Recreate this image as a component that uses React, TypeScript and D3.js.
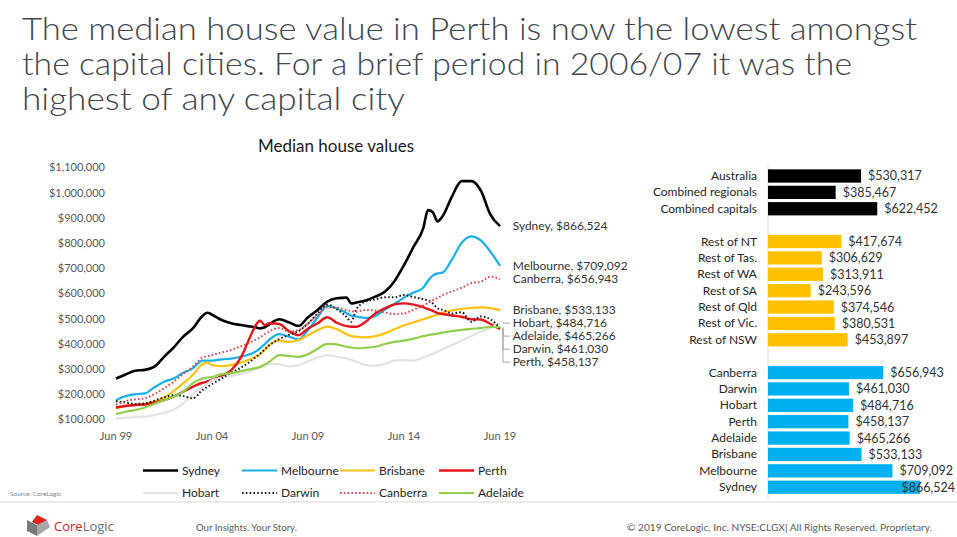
import React from "react";
import * as d3 from "d3";

// ---------- DATA ----------
const titleLines = [
  "The median house value in Perth is now the lowest amongst",
  "the capital cities.  For a brief period in 2006/07 it was the",
  "highest of any capital city",
];

const dates = [
  "1999-06", "1999-12", "2000-06", "2000-12", "2001-06", "2001-12", "2002-06", "2002-12",
  "2003-06", "2003-12", "2004-03", "2004-06", "2004-12", "2005-06", "2005-12", "2006-06",
  "2006-09", "2006-12", "2007-03", "2007-06", "2007-12", "2008-06", "2008-12", "2009-06",
  "2009-12", "2010-06", "2010-12", "2011-06", "2011-09", "2011-12", "2012-06", "2012-12",
  "2013-06", "2013-12", "2014-06", "2014-12", "2015-06", "2015-09", "2015-12", "2016-03",
  "2016-06", "2016-12", "2017-06", "2017-12", "2018-06", "2018-12", "2019-06",
];

// values in $ thousands
const sydney = [262, 278, 293, 296, 309, 348, 385, 428, 461, 510, 523, 515, 494, 481, 474, 468, 465, 461, 465, 478, 497, 485, 470, 505, 534, 567, 580, 583, 560, 563, 571, 587, 606, 648, 712, 785, 858, 930, 922, 885, 905, 985, 1045, 1045, 1008, 912, 866.5];
const melbourne = [176, 192, 200, 203, 227, 249, 262, 285, 302, 333, 333, 333, 338, 341, 348, 359, 368, 382, 398, 417, 438, 428, 417, 454, 505, 550, 540, 522, 512, 508, 502, 510, 535, 558, 583, 603, 622, 650, 670, 679, 682, 735, 800, 826, 810, 765, 709.1];
const brisbane = [143, 153, 157, 161, 170, 187, 212, 243, 276, 319, 325, 315, 311, 315, 325, 338, 348, 359, 375, 395, 412, 407, 415, 434, 454, 468, 457, 438, 430, 428, 425, 430, 441, 457, 473, 485, 497, 503, 510, 516, 523, 532, 538, 542, 544, 541, 533.1];
const perth = [147, 153, 157, 159, 166, 176, 190, 210, 229, 245, 250, 256, 272, 295, 345, 430, 470, 491, 474, 481, 478, 450, 434, 460, 481, 505, 483, 470, 467, 467, 487, 520, 540, 556, 560, 555, 545, 537, 530, 521, 518, 512, 507, 497, 496, 478, 458.1];
const hobart = [104, 106, 109, 110, 117, 126, 139, 163, 200, 229, 240, 255, 265, 272, 280, 290, 298, 305, 312, 320, 318, 310, 315, 330, 345, 355, 348, 342, 335, 329, 315, 313, 319, 333, 335, 332, 345, 352, 360, 368, 378, 395, 412, 430, 448, 462, 484.7];
const darwin = [172, 166, 161, 163, 174, 187, 196, 192, 183, 216, 228, 240, 262, 285, 305, 330, 345, 360, 378, 395, 418, 435, 450, 480, 520, 555, 536, 507, 487, 534, 567, 576, 584, 584, 593, 585, 577, 571, 560, 540, 535, 520, 525, 487, 508, 497, 461.0];
const canberra = [157, 172, 179, 183, 200, 223, 249, 280, 309, 345, 350, 355, 365, 375, 390, 405, 415, 425, 438, 450, 462, 448, 454, 481, 514, 544, 543, 534, 530, 527, 534, 531, 524, 518, 520, 535, 552, 562, 572, 582, 592, 608, 622, 640, 646, 666, 656.9];
const adelaide = [121, 130, 137, 147, 161, 176, 190, 210, 243, 262, 266, 268, 279, 283, 291, 299, 303, 308, 318, 329, 355, 352, 348, 358, 380, 399, 397, 388, 385, 382, 384, 388, 399, 407, 412, 420, 430, 434, 437, 440, 444, 450, 455, 459, 462, 467, 465.3];

const seriesNames = ["Sydney", "Melbourne", "Brisbane", "Perth", "Hobart", "Darwin", "Canberra", "Adelaide"];
const seriesValues = [sydney, melbourne, brisbane, perth, hobart, darwin, canberra, adelaide];
const endValues = [866524, 709092, 533133, 458137, 484716, 461030, 656943, 465266];

const yTicks = [100000, 200000, 300000, 400000, 500000, 600000, 700000, 800000, 900000, 1000000, 1100000];
const xTickDates = ["1999-06", "2004-06", "2009-06", "2014-06", "2019-06"];

const barCategories = [
  "Australia", "Combined regionals", "Combined capitals", "gap1",
  "Rest of NT", "Rest of Tas.", "Rest of WA", "Rest of SA", "Rest of Qld", "Rest of Vic.", "Rest of NSW", "gap2",
  "Canberra", "Darwin", "Hobart", "Perth", "Adelaide", "Brisbane", "Melbourne", "Sydney",
];
const barValues = [
  530317, 385467, 622452, null,
  417674, 306629, 313911, 243596, 374546, 380531, 453897, null,
  656943, 461030, 484716, 458137, 465266, 533133, 709092, 866524,
];
const barGroups = [
  "total", "total", "total", "",
  "regional", "regional", "regional", "regional", "regional", "regional", "regional", "",
  "capital", "capital", "capital", "capital", "capital", "capital", "capital", "capital",
];

// ---------- STYLE ----------
const seriesStyle: Record<string, { color: string; width: number; dash?: string }> = {
  Sydney: { color: "#000000", width: 2.6 },
  Melbourne: { color: "#16B1EA", width: 2.2 },
  Brisbane: { color: "#FFC20E", width: 2.2 },
  Perth: { color: "#E8141B", width: 2.4 },
  Hobart: { color: "#E3E3E3", width: 2.2 },
  Darwin: { color: "#1a1a1a", width: 2, dash: "1.6,2.2" },
  Canberra: { color: "#E2464C", width: 2, dash: "1.6,2.2" },
  Adelaide: { color: "#8FCF4C", width: 2.2 },
};
const groupColor: Record<string, string> = { total: "#000000", regional: "#FFC000", capital: "#00B0F0" };

const FONT = "Lato, 'Open Sans', sans-serif";

export default function App() {
  const parse = d3.timeParse("%Y-%m");
  const t = dates.map((d) => parse(d) as Date);

  const x = d3.scaleTime().domain([parse("1999-06") as Date, parse("2019-06") as Date]).range([116, 500]);
  const y = d3.scaleLinear().domain([100000, 1100000]).range([419.3, 167.3]);

  const line = d3
    .line<[Date, number]>()
    .x((d) => x(d[0]))
    .y((d) => y(d[1] * 1000))
    .curve(d3.curveMonotoneX);

  const money = d3.format("$,");

  // end labels with collision avoidance
  const order = seriesNames.map((n, i) => ({ name: n, v: endValues[i], yv: y(endValues[i]) }))
    .sort((a, b) => a.yv - b.yv);
  const gap = 13;
  const labels = order.map((o) => ({ ...o, yl: o.yv }));
  for (let i = 1; i < labels.length; i++) {
    if (labels[i].yl < labels[i - 1].yl + gap) labels[i].yl = labels[i - 1].yl + gap;
  }
  const clustered = labels.map((l, i) => {
    const prev = i > 0 ? Math.abs(order[i].yv - order[i - 1].yv) : 99;
    const next = i < order.length - 1 ? Math.abs(order[i + 1].yv - order[i].yv) : 99;
    return Math.min(prev, next) < 10;
  });
  const xEnd = x(parse("2019-06") as Date);

  // bars
  const by = d3.scaleBand().domain(barCategories).range([167.8, 495.4]).paddingInner(0.19).paddingOuter(0.095);
  const bx = d3.scaleLinear().domain([0, 1000000]).range([768, 768 + 175.5]);

  const legendRows = [
    ["Sydney", "Melbourne", "Brisbane", "Perth"],
    ["Hobart", "Darwin", "Canberra", "Adelaide"],
  ];
  const legendCols = [143, 242, 340, 439];
  const legendRowY = [470.5, 493];

  return (
    <svg
      width={957}
      height={537}
      style={{ position: "absolute", left: 0, top: 0, display: "block", background: "#fff" }}
      fontFamily={FONT}
    >
      <rect x={0} y={0} width={957} height={537} fill="#fff" />
      {/* Title */}
      {titleLines.map((s, i) => (
        <text
          key={i}
          x={22}
          y={40 + i * 35}
          fontSize={32}
          fontWeight={300}
          fill="#3E4751"
          textLength={[895, 830, 383][i]}
          lengthAdjust="spacingAndGlyphs"
        >
          {s}
        </text>
      ))}

      {/* Chart title */}
      <text x={336} y={152} fontSize={17} fill="#1a1a1a" textAnchor="middle">
        Median house values
      </text>

      {/* Y axis labels */}
      {yTicks.map((v) => (
        <text key={v} x={105} y={y(v) + 4} fontSize={11} fill="#595959" textAnchor="end">
          {money(v)}
        </text>
      ))}
      {/* X axis labels */}
      {xTickDates.map((d) => (
        <text key={d} x={x(parse(d) as Date)} y={440} fontSize={11} fill="#595959" textAnchor="middle">
          {d3.timeFormat("%b %y")(parse(d) as Date)}
        </text>
      ))}

      {/* Lines */}
      {seriesNames.map((n, i) => {
        const st = seriesStyle[n];
        const pts = t.map((d, j) => [d, seriesValues[i][j]] as [Date, number]);
        return (
          <path
            key={n}
            d={line(pts) || ""}
            fill="none"
            stroke={st.color}
            strokeWidth={st.width}
            strokeDasharray={st.dash}
            strokeLinejoin="round"
          />
        );
      })}

      {/* End labels */}
      {labels.map((l, i) => (
        <g key={l.name}>
          {clustered[i] && (
            <polyline
              points={`${xEnd + 3},${l.yv} ${xEnd + 3},${l.yl} ${xEnd + 10},${l.yl}`}
              fill="none"
              stroke="#A6A6A6"
              strokeWidth={1}
            />
          )}
          <text x={512.7} y={l.yl + 4.2} fontSize={12} fill="#333">
            {`${l.name}, ${money(l.v)}`}
          </text>
        </g>
      ))}

      {/* Legend */}
      {legendRows.map((row, r) =>
        row.map((n, c) => {
          const st = seriesStyle[n];
          return (
            <g key={n}>
              <line
                x1={legendCols[c]}
                x2={legendCols[c] + 35}
                y1={legendRowY[r]}
                y2={legendRowY[r]}
                stroke={st.color}
                strokeWidth={st.width}
                strokeDasharray={st.dash}
              />
              <text x={legendCols[c] + 39} y={legendRowY[r] + 4} fontSize={12} fill="#262626">
                {n}
              </text>
            </g>
          );
        })
      )}

      <text x={10} y={496} fontSize={6.5} fill="#7f7f7f">
        Source:  CoreLogic
      </text>

      {/* separator */}
      <line x1={0} x2={957} y1={502} y2={502} stroke="#D9D9D9" strokeWidth={1} />

      {/* Bar chart */}
      <line x1={768} x2={768} y1={166} y2={500} stroke="#D9D9D9" strokeWidth={1} />
      {barCategories.map((c, i) => {
        const v = barValues[i];
        if (v == null) return null;
        const yy = by(c) as number;
        const h = by.bandwidth();
        const end = bx(v);
        const label = money(v);
        const estW = 6.3 * label.length;
        const clamp = end + 7 + estW > 955;
        return (
          <g key={c}>
            <text x={757} y={yy + h / 2 + 4} fontSize={12} fill="#262626" textAnchor="end">
              {c}
            </text>
            <rect x={bx(0)} y={yy} width={end - bx(0)} height={h} fill={groupColor[barGroups[i]]} />
            <text
              x={clamp ? 955 : end + 7}
              y={yy + h / 2 + 4.5}
              fontSize={12.5}
              fill="#333"
              textAnchor={clamp ? "end" : "start"}
            >
              {label}
            </text>
          </g>
        );
      })}

      {/* Footer */}
      <g>
        <polygon points="37,515 47,520 42,527 32,522" fill="#E2231A" />
        <polygon points="27,520 37,525 37,536 27,531" fill="#7a7a7a" />
        <polygon points="37,525 47,520 50,527 37,536" fill="#a7a7a7" />
        <text x={54} y={531} fontSize={13} fontFamily="'Open Sans', sans-serif">
          <tspan fill="#E2231A">Core</tspan>
          <tspan fill="#6d6e71">Logic</tspan>
        </text>
        <text x={196} y={531} fontSize={8.5} fill="#595959" textLength={101} lengthAdjust="spacingAndGlyphs">
          Our Insights. Your Story.
        </text>
        <text x={627} y={531} fontSize={8.5} fill="#595959" textLength={305} lengthAdjust="spacingAndGlyphs">
          © 2019 CoreLogic, Inc.  NYSE:CLGX|  All Rights Reserved.  Proprietary.
        </text>
      </g>
    </svg>
  );
}
